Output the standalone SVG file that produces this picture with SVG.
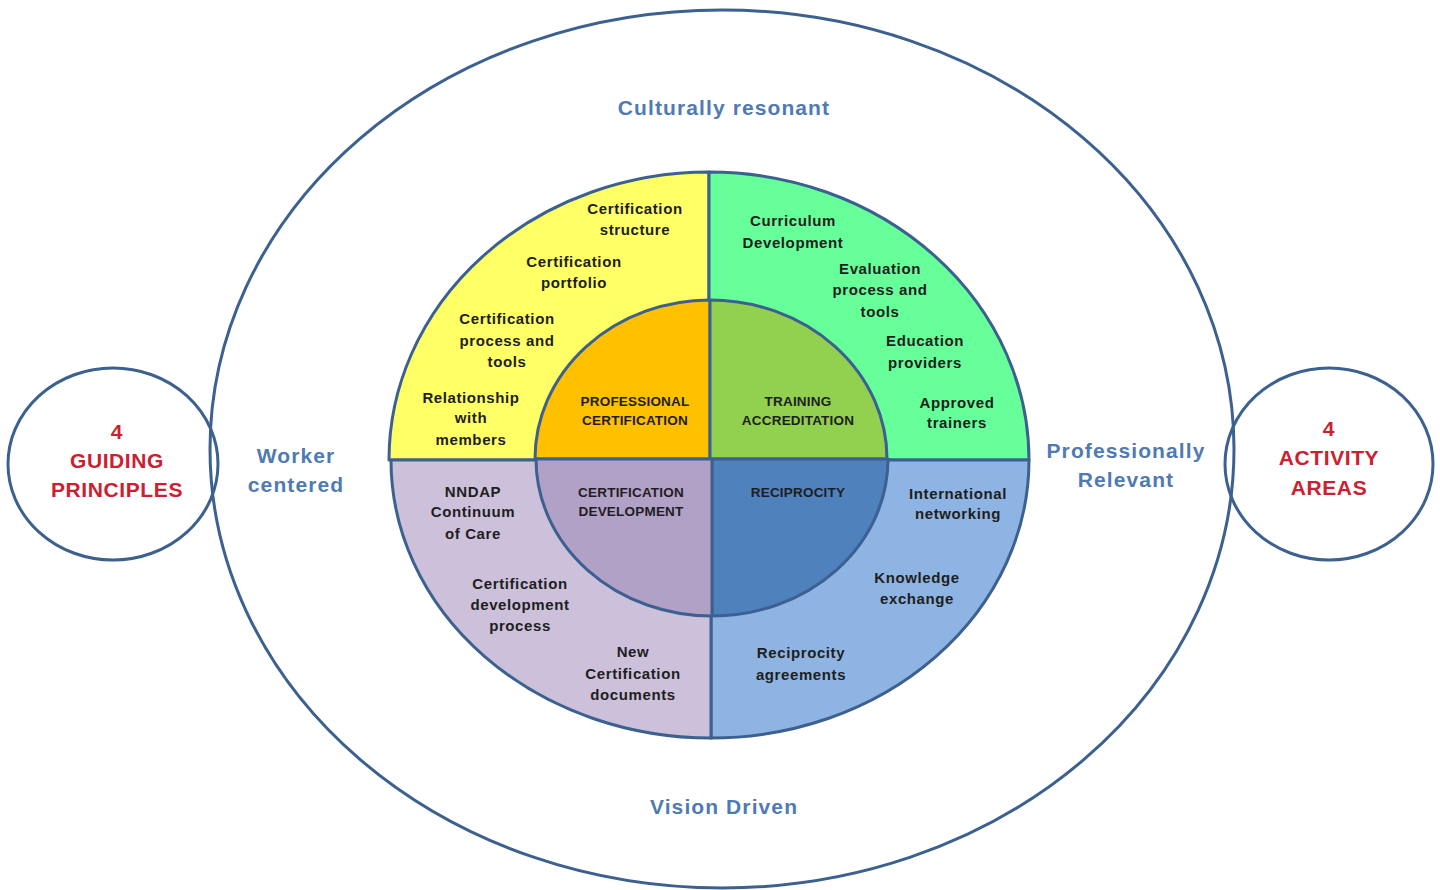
<svg xmlns="http://www.w3.org/2000/svg" width="1440" height="890" viewBox="0 0 1440 890">
<style>
.ln{fill:none;stroke:#3C6090;stroke-width:3}
.q{stroke:#3C6090;stroke-width:3;stroke-linejoin:round}
.t{font-family:"Liberation Sans",Arial,sans-serif;font-weight:bold;font-size:15px;fill:#1E1E1E;text-anchor:middle;letter-spacing:0.6px}
.c{font-family:"Liberation Sans",Arial,sans-serif;font-weight:bold;font-size:13.5px;fill:#1E1E1E;text-anchor:middle;letter-spacing:0.2px}
.o{font-family:"Liberation Sans",Arial,sans-serif;font-weight:bold;font-size:21px;fill:#4F7AB3;text-anchor:middle;letter-spacing:1.1px}
.r{font-family:"Liberation Sans",Arial,sans-serif;font-weight:bold;font-size:21px;fill:#CC2030;text-anchor:middle;letter-spacing:0.6px}
</style>
<rect width="1440" height="890" fill="#FFFFFF"/>
<g id="outer-ellipse">
<ellipse class="ln" cx="722" cy="449" rx="512" ry="439"/>
<text class="o" x="724" y="115">Culturally resonant</text>
<text class="o" x="296" y="463">Worker</text>
<text class="o" x="296" y="492">centered</text>
<text class="o" x="1126" y="458">Professionally</text>
<text class="o" x="1126" y="487">Relevant</text>
<text class="o" x="724" y="814">Vision Driven</text>
</g>
<g id="guiding-principles">
<ellipse class="ln" cx="113" cy="464" rx="105" ry="96"/>
<text class="r" x="117" y="439">4</text>
<text class="r" x="117" y="468">GUIDING</text>
<text class="r" x="117" y="497">PRINCIPLES</text>
</g>
<g id="activity-areas">
<ellipse class="ln" cx="1329" cy="464" rx="104" ry="96"/>
<text class="r" x="1329" y="436">4</text>
<text class="r" x="1329" y="465">ACTIVITY</text>
<text class="r" x="1329" y="495">AREAS</text>
</g>
<g id="certification-quadrant">
<path class="q" fill="#FFFF66" d="M709 460 L389 460 A320 288 0 0 1 709 172 Z"/>
<text class="t" x="635" y="214">Certification</text>
<text class="t" x="635" y="235">structure</text>
<text class="t" x="574" y="267">Certification</text>
<text class="t" x="574" y="288">portfolio</text>
<text class="t" x="507" y="324">Certification</text>
<text class="t" x="507" y="346">process and</text>
<text class="t" x="507" y="367">tools</text>
<text class="t" x="471" y="403">Relationship</text>
<text class="t" x="471" y="423">with</text>
<text class="t" x="471" y="445">members</text>
</g>
<g id="training-quadrant">
<path class="q" fill="#66FF99" d="M709 460 L709 172 A320 288 0 0 1 1029 460 Z"/>
<text class="t" x="793" y="226">Curriculum</text>
<text class="t" x="793" y="248">Development</text>
<text class="t" x="880" y="274">Evaluation</text>
<text class="t" x="880" y="295">process and</text>
<text class="t" x="880" y="317">tools</text>
<text class="t" x="925" y="346">Education</text>
<text class="t" x="925" y="368">providers</text>
<text class="t" x="957" y="408">Approved</text>
<text class="t" x="957" y="428">trainers</text>
</g>
<g id="reciprocity-quadrant">
<path class="q" fill="#8EB4E3" d="M711 460 L1029 460 A318 278 0 0 1 711 738 Z"/>
<text class="t" x="958" y="499">International</text>
<text class="t" x="958" y="519">networking</text>
<text class="t" x="917" y="583">Knowledge</text>
<text class="t" x="917" y="604">exchange</text>
<text class="t" x="801" y="658">Reciprocity</text>
<text class="t" x="801" y="680">agreements</text>
</g>
<g id="development-quadrant">
<path class="q" fill="#CCC0DA" d="M711 460 L711 738 A320 278 0 0 1 391 460 Z"/>
<text class="t" x="473" y="497">NNDAP</text>
<text class="t" x="473" y="517">Continuum</text>
<text class="t" x="473" y="539">of Care</text>
<text class="t" x="520" y="589">Certification</text>
<text class="t" x="520" y="610">development</text>
<text class="t" x="520" y="631">process</text>
<text class="t" x="633" y="657">New</text>
<text class="t" x="633" y="679">Certification</text>
<text class="t" x="633" y="700">documents</text>
</g>
<g id="professional-certification">
<path class="q" fill="#FFC000" d="M710 459 L535 459 A175 159 0 0 1 710 300 Z"/>
<text class="c" x="635" y="406">PROFESSIONAL</text>
<text class="c" x="635" y="425">CERTIFICATION</text>
</g>
<g id="training-accreditation">
<path class="q" fill="#92D050" d="M710 459 L710 300 A177 159 0 0 1 887 459 Z"/>
<text class="c" x="798" y="406">TRAINING</text>
<text class="c" x="798" y="425">ACCREDITATION</text>
</g>
<g id="reciprocity">
<path class="q" fill="#4F81BD" d="M712 459 L888 459 A176 157 0 0 1 712 616 Z"/>
<text class="c" x="798" y="497">RECIPROCITY</text>
</g>
<g id="certification-development">
<path class="q" fill="#B2A1C7" d="M712 459 L712 616 A176 157 0 0 1 536 459 Z"/>
<text class="c" x="631" y="497">CERTIFICATION</text>
<text class="c" x="631" y="516">DEVELOPMENT</text>
</g>
<g id="connectors"></g>
</svg>
